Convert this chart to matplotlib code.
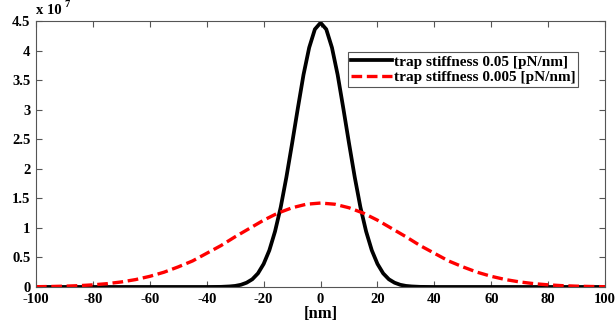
import matplotlib
matplotlib.use('Agg')
import matplotlib.pyplot as plt

# values, y in units of 1e7
x_stiff = [-100, -40, -35, -32, -30, -28, -26, -24, -22, -20, -18, -16, -14, -12, -10, -8, -6, -4, -2,
           0, 2, 4, 6, 8, 10, 12, 14, 16, 18, 20, 22, 24, 26, 28, 30, 32, 35, 40, 100]
y_stiff = [0, 0, 0.002, 0.009, 0.018, 0.037, 0.072, 0.13, 0.23, 0.39, 0.62, 0.94, 1.35, 1.86, 2.43, 3.02, 3.59, 4.05, 4.36,
           4.47, 4.36, 4.05, 3.59, 3.02, 2.43, 1.86, 1.35, 0.94, 0.62, 0.39, 0.23, 0.13, 0.072, 0.037, 0.018, 0.009, 0.002, 0, 0]

x_soft = [-100, -95, -90, -85, -80, -75, -70, -65, -60, -55, -50, -45, -40, -35, -30, -25, -20, -15, -10, -5,
          0, 5, 10, 15, 20, 25, 30, 35, 40, 45, 50, 55, 60, 65, 70, 75, 80, 85, 90, 95, 100]
y_soft = [0.0045, 0.008, 0.0135, 0.022, 0.036, 0.056, 0.085, 0.125, 0.18, 0.25, 0.34, 0.44, 0.57, 0.70, 0.85, 0.99, 1.13, 1.25, 1.34, 1.40,
          1.42, 1.40, 1.34, 1.25, 1.13, 0.99, 0.85, 0.70, 0.57, 0.44, 0.34, 0.25, 0.18, 0.125, 0.085, 0.056, 0.036, 0.022, 0.0135, 0.008, 0.0045]

labels = ['trap stiffness 0.05 [pN/nm]', 'trap stiffness 0.005 [pN/nm]']
yticks = [0, 0.5, 1, 1.5, 2, 2.5, 3, 3.5, 4, 4.5]
ytick_labels = ['0', '0.5', '1', '1.5', '2', '2.5', '3', '3.5', '4', '4.5']

plt.rcParams['font.family'] = 'Liberation Serif'
plt.rcParams['font.weight'] = 'bold'
plt.rcParams['axes.unicode_minus'] = False

fig = plt.figure(figsize=(6.15, 3.21), dpi=100)
ax = fig.add_axes([0.0585, 0.106, 0.9255, 0.8286])

ax.plot(x_stiff, y_stiff, color='black', lw=2.7, label=labels[0])
ax.plot(x_soft, y_soft, color='red', lw=2.4, ls=(0, (3.2, 1.4)), label=labels[1])

ax.set_xlim(-100, 100)
ax.set_ylim(0, 4.5)
ax.set_xticks(range(-100, 101, 20))
ax.set_yticks(yticks)
ax.set_yticklabels(ytick_labels)
ax.tick_params(direction='in', top=True, right=True, length=4, width=0.8,
               labelsize=10.5, pad=4, color='#555555')
for lab in ax.get_xticklabels() + ax.get_yticklabels():
    lab.set_fontweight('bold')
for s in ax.spines.values():
    s.set_color('#555555')
    s.set_linewidth(0.8)

ax.set_xlabel('[nm]', fontsize=12, fontweight='bold', labelpad=0)
# exponent label above the y axis
ax.text(0.0, 1.015, 'x 10', transform=ax.transAxes, fontsize=10.5, fontweight='bold',
        ha='left', va='bottom')
ax.text(0.05, 1.045, '7', transform=ax.transAxes, fontsize=7.5, fontweight='bold',
        ha='left', va='bottom')

leg = ax.legend(loc='upper right', bbox_to_anchor=(0.9526, 0.8835), borderaxespad=0,
                fontsize=11, handlelength=2.7, handletextpad=0.1, borderpad=0.2,
                labelspacing=0.1, fancybox=False, edgecolor='#555555', framealpha=1)
leg.get_frame().set_linewidth(0.8)
for t in leg.get_texts():
    t.set_fontweight('bold')

fig.savefig('out.png', dpi=100)
